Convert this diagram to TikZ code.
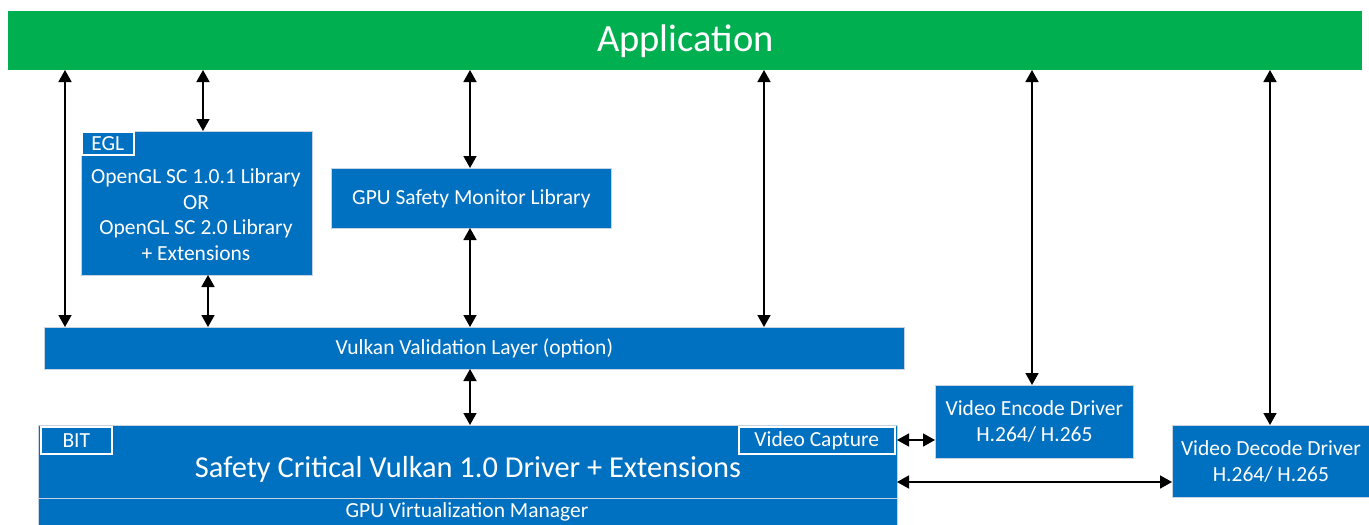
\documentclass[tikz,border=0pt]{standalone}
\usepackage{fontspec}
\setmainfont{Carlito}
\usetikzlibrary{arrows.meta}
\definecolor{appgreen}{HTML}{00B050}
\definecolor{boxblue}{HTML}{0070C0}
\definecolor{edgegray}{HTML}{C8D4E4}
\begin{document}
\begin{tikzpicture}[x=1pt,y=-1pt,
  blk/.style={fill=boxblue,draw=edgegray,line width=0.8pt,inner sep=0pt,anchor=north west,text=white,font=\fontsize{21.5}{26}\selectfont,align=center},
  tab/.style={fill=boxblue,draw=white,line width=1.6pt,inner sep=0pt,anchor=north west,text=white,font=\fontsize{21.5}{24}\selectfont},
  lbl/.style={text=white,inner sep=0pt,align=center,font=\fontsize{21.5}{25.7}\selectfont},
  arr/.style={{Triangle[length=12pt,width=13pt]}-{Triangle[length=12pt,width=13pt]},line width=1.7pt,black}]
\useasboundingbox (0,0) rectangle (1369,525);
% Application
\node[blk,fill=appgreen,draw=none,minimum width=1354pt,minimum height=59pt,font=\fontsize{38.5}{42}\selectfont] (app) at (8,11) {Application};
% EGL box
\node[blk,minimum width=231pt,minimum height=144pt] (egl) at (81,131) {};
\node[lbl] (egltxt) at (196,214.5) {OpenGL SC 1.0.1 Library\\OR\\OpenGL SC 2.0 Library\\+ Extensions};
\node[tab,minimum width=52pt,minimum height=23pt] (egltab) at (81,131) {EGL};
% GPU Safety Monitor
\node[blk,minimum width=280pt,minimum height=60pt] (gsm) at (331,168) {GPU Safety Monitor Library};
% Vulkan validation layer
\node[blk,minimum width=860pt,minimum height=42pt] (vvl) at (44,327) {Vulkan Validation Layer (option)};
% Safety critical driver
\node[blk,minimum width=859pt,minimum height=110pt] (sc) at (38,425) {};
\node[lbl,font=\fontsize{30.4}{34}\selectfont] (sctxt) at (468,469) {Safety Critical Vulkan 1.0 Driver + Extensions};
\draw[edgegray,line width=0.8pt] (38,498) coordinate (divl) -- (897,498) coordinate (divr);
\node[lbl] (gvm) at (467,512) {GPU Virtualization Manager};
\node[tab,minimum width=71pt,minimum height=27pt] (bit) at (40,426) {BIT};
\node[tab,minimum width=156pt,minimum height=27pt] (vcap) at (738,426) {Video Capture};
% Video encode / decode
\node[blk,minimum width=198pt,minimum height=73pt] (venc) at (935,385) {Video Encode Driver\\H.264/ H.265};
\node[blk,minimum width=197pt,minimum height=72pt] (vdec) at (1172,425) {Video Decode Driver\\H.264/ H.265};
% arrows
\coordinate (a1) at (65,70);   \coordinate (b1) at (65,327);
\coordinate (a2) at (203,70);  \coordinate (b2) at (203,131);
\coordinate (a3) at (470,70);  \coordinate (b3) at (470,168);
\coordinate (a4) at (470,228); \coordinate (b4) at (470,327);
\coordinate (a5) at (208,275); \coordinate (b5) at (208,327);
\coordinate (a6) at (764,70);  \coordinate (b6) at (764,327);
\coordinate (a7) at (470,369); \coordinate (b7) at (470,425);
\coordinate (a8) at (1032,70); \coordinate (b8) at (1032,385);
\coordinate (a9) at (1270,70); \coordinate (b9) at (1270,425);
\coordinate (c1) at (897,440); \coordinate (d1) at (935,440);
\coordinate (c2) at (897,482); \coordinate (d2) at (1172,482);
\foreach \s/\e in {a1/b1,a2/b2,a3/b3,a4/b4,a5/b5,a6/b6,a7/b7,a8/b8,a9/b9,c1/d1,c2/d2}
  \draw[arr] (\s) -- (\e);
\end{tikzpicture}
\end{document}
